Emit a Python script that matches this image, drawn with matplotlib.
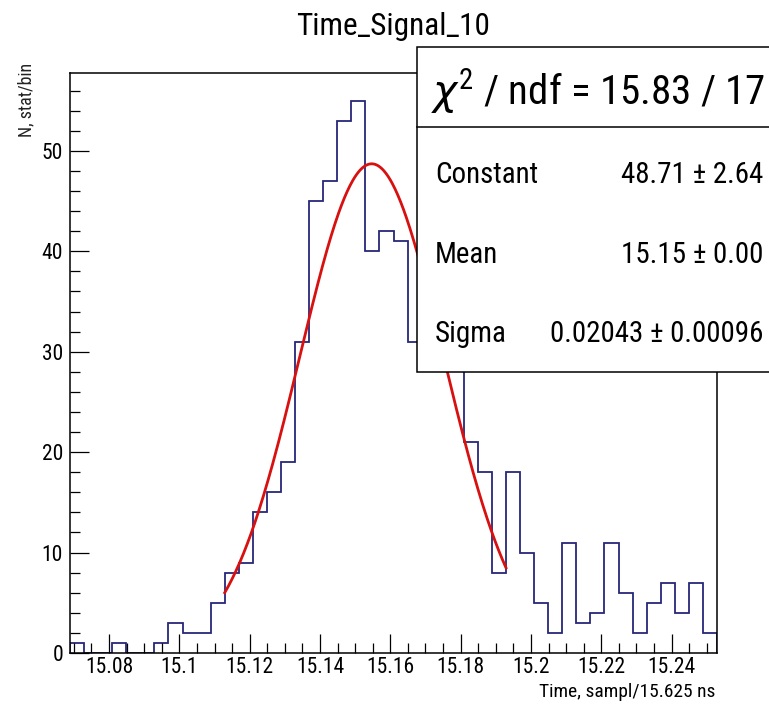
import numpy as np
import matplotlib
matplotlib.use("Agg")
import matplotlib.pyplot as plt
from matplotlib import font_manager
from matplotlib.patches import Rectangle
from matplotlib.ticker import MultipleLocator, FuncFormatter

# histogram: 46 bins of 0.004 starting at 15.0689
x_min = 15.0689
bin_width = 0.004
counts = [1, 0, 0, 1, 0, 0, 1, 3, 2, 2,
          5, 8, 9, 14, 16, 19, 31, 45, 47, 53,
          55, 40, 42, 41, 31, 36, 33, 30, 21, 18,
          8, 18, 10, 5, 2, 11, 3, 4, 11, 6,
          2, 5, 7, 4, 7, 2]

# gaussian fit (shown in the stat box)
fit_const = 48.71
fit_mean = 15.1547
fit_sigma = 0.02043
fit_range = [15.1129, 15.1929]

stat_labels = ["Constant", "Mean", "Sigma"]
stat_values = ["48.71 \u00b1 2.64", "15.15 \u00b1 0.00", "0.02043 \u00b1 0.00096"]
chi2_text = r"$\chi^{2}$ / ndf = 15.83 / 17"

names = {f.name for f in font_manager.fontManager.ttflist}
fam = "Liberation Sans"
for cand in ["Liberation Sans Narrow", "Arial Narrow", "Roboto Condensed"]:
    if cand in names:
        fam = cand
        break
plt.rcParams["font.family"] = [fam, "DejaVu Sans"]
plt.rcParams["mathtext.fontset"] = "custom"
plt.rcParams["mathtext.rm"] = fam
plt.rcParams["mathtext.it"] = "DejaVu Sans:italic"

W, H = 769, 707
fig = plt.figure(figsize=(W / 100, H / 100), dpi=100)
ax = fig.add_axes([70 / W, 1 - 653 / H, (717 - 70) / W, (653 - 73) / H])

edges = x_min + bin_width * np.arange(len(counts) + 1)
ax.stairs(counts, edges, color="#28287a", lw=1.3)

xf = np.linspace(fit_range[0], fit_range[1], 300)
yf = fit_const * np.exp(-0.5 * ((xf - fit_mean) / fit_sigma) ** 2)
ax.plot(xf, yf, color="#d81010", lw=2.0)

ax.set_xlim(edges[0], edges[-1])
ax.set_ylim(0, max(counts) * 1.05)

ax.xaxis.set_major_locator(MultipleLocator(0.02))
ax.xaxis.set_minor_locator(MultipleLocator(0.005))
ax.yaxis.set_major_locator(MultipleLocator(10))
ax.yaxis.set_minor_locator(MultipleLocator(2))
ax.xaxis.set_major_formatter(FuncFormatter(lambda v, p: f"{v:.2f}".rstrip("0")))
ax.tick_params(which="both", direction="in", top=False, right=False, color="black")
ax.tick_params(which="major", length=13.5, width=0.9, labelsize=15.5)
ax.tick_params(axis="x", which="major", pad=3)
ax.tick_params(axis="y", which="major", pad=5)
ax.tick_params(which="minor", length=7.5, width=0.9)
for s in ax.spines.values():
    s.set_linewidth(1.1)

xl = ax.set_xlabel("Time, sampl/15.625 ns", fontsize=13, loc="right")
yl = ax.set_ylabel("N, stat/bin", fontsize=11, loc="top", color="#222222")
xl.set_va("baseline")
ax.xaxis.set_label_coords(1 - 2 / 647, -(697 - 653) / 580)
ax.yaxis.set_label_coords(-(70 - 35) / 647, (653 - 63) / 580)

title = fig.text(393 / W, 1 - 35 / H, "Time_Signal_10", fontsize=20,
                 ha="center", va="baseline")

# stat box
box = Rectangle((417 / W, 1 - 372 / H), (772 - 417) / W, (372 - 47) / H,
                transform=fig.transFigure, facecolor="white", edgecolor="black",
                lw=1.1, zorder=10)
fig.patches.append(box)
fig.add_artist(plt.Line2D([417 / W, 1.0], [1 - 127 / H, 1 - 127 / H],
                          transform=fig.transFigure, color="black", lw=1.1, zorder=11))
chi = fig.text(598 / W, 1 - 105 / H, chi2_text, fontsize=28, ha="center",
               va="baseline", zorder=12)
rows_y = [183, 263, 342]
row_texts = []
for lab, val, yy in zip(stat_labels, stat_values, rows_y):
    row_texts.append(fig.text(435 / W, 1 - yy / H, lab, fontsize=18,
                              ha="left", va="baseline", zorder=12))
    row_texts.append(fig.text(763 / W, 1 - yy / H, val, fontsize=18,
                              ha="right", va="baseline", zorder=12))

# scale font sizes so that text lengths match the reference layout
r = fig.canvas.get_renderer()


def fit_length(t, target, vertical=False):
    bb = t.get_window_extent(r)
    length = bb.height if vertical else bb.width
    t.set_fontsize(t.get_fontsize() * target / length)
    return t.get_fontsize()


fit_length(title, 194)
fit_length(chi, 334)
fit_length(xl, 175)
fit_length(yl, 74, vertical=True)
row_size = fit_length(row_texts[-1], 214)
for t in row_texts:
    t.set_fontsize(row_size)

fig.savefig("out.png", dpi=100)
